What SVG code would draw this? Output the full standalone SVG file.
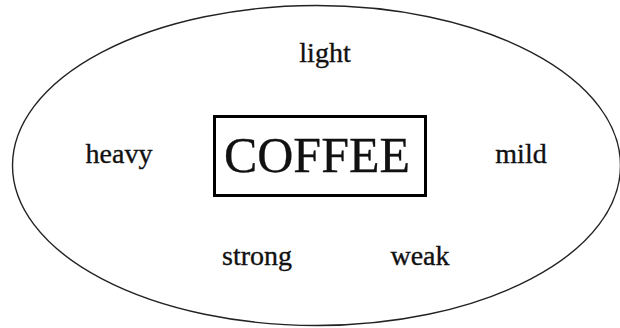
<svg xmlns="http://www.w3.org/2000/svg" width="620" height="328" viewBox="0 0 620 328">
  <style>
    .word { font-family: "Liberation Serif", "Times New Roman", serif; font-size: 28px; fill: #111; stroke: #111; stroke-width: 0.35; text-anchor: middle; }
    .title { font-family: "Liberation Serif", "Times New Roman", serif; font-size: 50px; fill: #111; stroke: #111; stroke-width: 0.3; text-anchor: middle; }
  </style>
  <rect width="620" height="328" fill="#fff"/>
  <!-- outer boundary -->
  <g id="boundary">
    <ellipse cx="316.5" cy="165.5" rx="304" ry="160" fill="none" stroke="#222" stroke-width="1.4"/>
  </g>
  <!-- central concept -->
  <g id="coffee">
    <rect x="214.5" y="116.5" width="211" height="79" fill="#fff" stroke="#000" stroke-width="3"/>
    <text class="title" x="317" y="172">COFFEE</text>
  </g>
  <g id="light"><text class="word" x="325" y="62">light</text></g>
  <g id="heavy"><text class="word" x="119" y="163">heavy</text></g>
  <g id="mild"><text class="word" x="521" y="163">mild</text></g>
  <g id="strong"><text class="word" x="257" y="265">strong</text></g>
  <g id="weak"><text class="word" x="420" y="265">weak</text></g>
  <g id="connectors"></g>
</svg>
